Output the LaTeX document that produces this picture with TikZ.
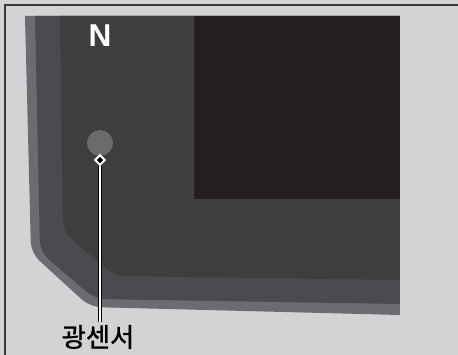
\documentclass[tikz,border=0pt]{standalone}
\usepackage{fontspec}
\usepackage{tikz}
\usetikzlibrary{positioning,shapes.geometric}
\newfontfamily\kofont{Noto Sans CJK KR}[FakeBold=1.2]
\newfontfamily\capfont{Liberation Sans}

\definecolor{bggray}{HTML}{D2D3D5}
\definecolor{framegray}{HTML}{3A3A3C}
\definecolor{rimgray}{HTML}{6B6C70}
\definecolor{bandgray}{HTML}{4A4B4E}
\definecolor{dashgray}{HTML}{3E3E3E}
\definecolor{screenblack}{HTML}{231F20}
\definecolor{sensorgray}{HTML}{6B6B6E}

\begin{document}
\begin{tikzpicture}[x=0.02cm, y=-0.02cm, node distance=0.9cm]
    \tikzstyle{sensor} = [circle, fill=sensorgray, minimum size=0.52cm, inner sep=0pt]
    \tikzstyle{pointer} = [diamond, fill=black, draw=white, line width=0.04cm,
	minimum size=0.21cm, inner sep=0pt]
    \tikzstyle{leader} = [double=white, double distance=0.05cm, line width=0.02cm, draw=black]
    \useasboundingbox (0,0) rectangle (458,355);
    \fill[bggray] (0,0) rectangle (458,355);
    % frame
    \draw[framegray, line width=0.03cm] (5,355) -- (5,5) -- (458,5);
    % dashboard layers
    \fill[rimgray] (400,16) -- (25,16) [rounded corners=0.22cm]
        -- (31,253) -- (90,307) [sharp corners] -- (400,315) -- cycle;
    \fill[bandgray] (400,16) -- (35,16) [rounded corners=0.22cm]
        -- (40,252) -- (95,299) [sharp corners] -- (400,304) -- cycle;
    \fill[dashgray] (400,16) -- (60,16) [rounded corners=0.22cm]
        -- (63,232) -- (115,276) [sharp corners] -- (400,280) -- cycle;
    \fill[screenblack] (194,16) rectangle (400,199);
	\begin{scope}
		\path
			node[text=white, font=\capfont\bfseries\fontsize{18}{20}\selectfont] (N) at (100,36) {N}
			node[sensor] (S) at (100,143) {}
			node[pointer] (P) at (100,160) {}
			node[font=\kofont\fontsize{15}{17}\selectfont, inner sep=1pt] (L) at (98,337) {광센서};
		\draw[leader] (P.south) -- (100,322);
	\end{scope}
\end{tikzpicture}
\end{document}
